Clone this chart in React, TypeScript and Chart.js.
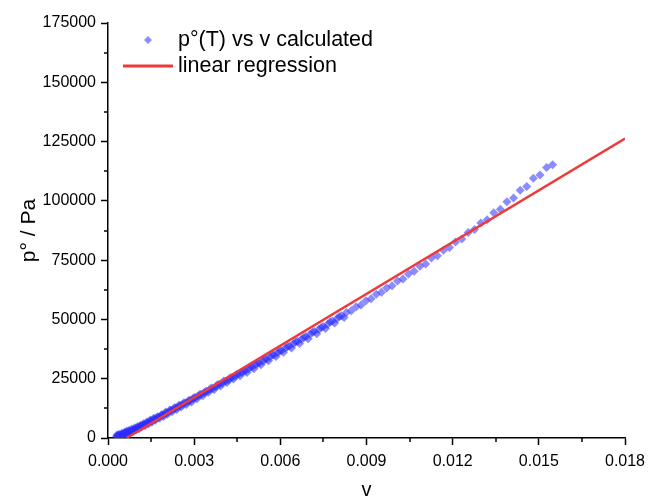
import { useEffect, useRef } from 'react';
import { Chart, registerables } from 'chart.js';

Chart.register(...registerables);

// p°(T) vs v calculated — main run
const vCalc = [
  0.0003, 0.00033, 0.00036, 0.0004, 0.00043, 0.00046, 0.0005, 0.00053, 0.00057, 0.0006,
  0.00064, 0.00068, 0.00072, 0.00076, 0.0008, 0.00085, 0.0009, 0.00095, 0.001, 0.00105,
  0.0011, 0.00115, 0.0012, 0.00126, 0.00132, 0.00138, 0.00144, 0.0015, 0.00156, 0.00162,
  0.00168, 0.00175, 0.00182, 0.00189, 0.00196, 0.00203,
  0.00211, 0.00219, 0.00227, 0.00235, 0.00243, 0.00251, 0.0026, 0.00269, 0.00278, 0.00287,
  0.00296, 0.00305, 0.00315, 0.00325, 0.00335, 0.00345, 0.00355, 0.00365, 0.00376, 0.00387,
  0.00398, 0.00409, 0.0042, 0.00431, 0.00442, 0.00454, 0.00466, 0.00478, 0.0049, 0.00502,
  0.00514, 0.00526, 0.00539, 0.00552, 0.00565, 0.00578, 0.00591, 0.00604, 0.00618, 0.00632,
  0.00646, 0.0066, 0.00674, 0.00689, 0.00704, 0.00719, 0.00734, 0.00749, 0.00765, 0.00781,
  0.00797, 0.00813,
  0.0083, 0.00847, 0.00864, 0.00881, 0.00898, 0.00916, 0.00934, 0.00952, 0.0097, 0.00989,
  0.01008, 0.01027, 0.01046, 0.01066, 0.01086, 0.01106, 0.01126, 0.01147, 0.01168, 0.01189,
  0.0121, 0.01232, 0.01254, 0.01276, 0.01298, 0.0132, 0.01343, 0.01366, 0.01389, 0.01412,
  0.01435, 0.01458, 0.01481, 0.01504, 0.01527, 0.01548,
];
const pCalc = [
  600, 900, 800, 1200, 1000, 1500, 1400, 1800, 1700, 2100,
  2300, 2200, 2700, 2600, 3100, 3200, 3600, 3700, 4100, 4300,
  4700, 4900, 5400, 5600, 6100, 6300, 6900, 7200, 7500, 8000,
  8200, 8800, 9100, 9700, 9900, 10600,
  11000, 11700, 12000, 12700, 13000, 13700, 14100, 14800, 15300, 15800,
  16600, 17000, 17800, 18300, 19100, 19600, 20400, 20900, 21700, 22600,
  23100, 23900, 24500, 25400, 26000, 26900, 27600, 28300, 29300, 29900,
  30900, 31600, 32500, 33300, 34300, 35000, 36100, 36800, 37900, 38800,
  39700, 40800, 41600, 42800, 43700, 44900, 45800, 47000, 48000, 49300,
  50300, 51600,
  52900, 53700, 55300, 56100, 57900, 58700, 60600, 61500, 63300, 64200,
  66200, 67100, 69200, 70300, 72400, 73400, 75900, 76800, 79200, 80300,
  82700, 83900, 86700, 87900, 90700, 92000, 95000, 96500, 99600, 101200,
  104500, 106100, 109500, 110900, 114100, 115200,
];

// p°(T) vs v calculated — second, overlapping run
const vCalcB = [
  0.00031, 0.00035, 0.00038, 0.00042, 0.00048, 0.00052, 0.00058, 0.00062, 0.00066, 0.0007,
  0.00074, 0.00078, 0.00083, 0.00088, 0.00093, 0.00098, 0.00103, 0.00108, 0.00113, 0.00118,
  0.00123, 0.00129, 0.00135, 0.00141, 0.00147, 0.00153, 0.00159, 0.00165, 0.00172, 0.00179,
  0.00186, 0.00193, 0.002, 0.00207, 0.00215, 0.00223, 0.00231, 0.00239, 0.00247, 0.00255,
  0.00264, 0.00273, 0.00282, 0.00291, 0.003, 0.0031, 0.0032, 0.0033, 0.0034, 0.0035,
  0.0036, 0.0037, 0.00381, 0.00392, 0.00403, 0.00414, 0.00425, 0.00437, 0.00448, 0.0046,
  0.00472, 0.00484, 0.00496, 0.00508, 0.0052, 0.00533, 0.00546, 0.00559, 0.00572, 0.00585,
  0.00598, 0.00611, 0.00625, 0.00639, 0.00653, 0.00667, 0.00682, 0.00697, 0.00712, 0.00727,
  0.00742, 0.00757, 0.00773, 0.00789, 0.00805, 0.00822,
];
const pCalcB = [
  1300, 400, 1600, 700, 2000, 900, 2500, 1500, 2900, 1900,
  3300, 2300, 3800, 2900, 4300, 3500, 4800, 3900, 5400, 4600,
  6000, 5200, 6700, 5900, 7600, 6600, 8300, 7500, 9000, 8300,
  9800, 9100, 10900, 10000, 11800, 11100, 12800, 12000, 13800, 13100,
  14900, 14100, 15900, 15200, 17100, 16500, 18400, 17800, 19700, 19300,
  21100, 20500, 22500, 21900, 24000, 23400, 25300, 24900, 26800, 26300,
  28200, 27600, 29900, 29200, 31400, 30900, 33100, 32600, 35000, 34400,
  36700, 36200, 38500, 38000, 40500, 39900, 42400, 41900, 44600, 44000,
  46600, 46200, 48900, 48500, 51200, 50800,
];

// linear regression end points
const fitV = [0.00065, 0.018];
const fitP = [0, 126300];

const xTickValues = [0, 0.003, 0.006, 0.009, 0.012, 0.015, 0.018];
const yTickValues = [0, 25000, 50000, 75000, 100000, 125000, 150000, 175000];

const legendLabels = ['p°(T) vs v calculated', 'linear regression'];

const FONT = "'Liberation Sans', Arial, sans-serif";
const POINT_COLOR = 'rgba(45,45,255,0.55)';
const LINE_COLOR = 'rgb(238,58,58)';

const minorTicksPlugin = {
  id: 'minorTicks',
  afterDraw(chart: any) {
    const { ctx, scales } = chart;
    const x = scales.x;
    const y = scales.y;
    ctx.save();
    ctx.strokeStyle = '#000';
    ctx.lineWidth = 1.5;
    for (let i = 0; i < xTickValues.length - 1; i++) {
      const mid = (xTickValues[i] + xTickValues[i + 1]) / 2;
      const px = Math.round(x.getPixelForValue(mid));
      ctx.beginPath();
      ctx.moveTo(px, y.bottom);
      ctx.lineTo(px, y.bottom + 4);
      ctx.stroke();
    }
    for (let i = 0; i < yTickValues.length - 1; i++) {
      const mid = (yTickValues[i] + yTickValues[i + 1]) / 2;
      const py = Math.round(y.getPixelForValue(mid));
      ctx.beginPath();
      ctx.moveTo(x.left, py);
      ctx.lineTo(x.left - 4, py);
      ctx.stroke();
    }
    ctx.restore();
  },
};

const legendPlugin = {
  id: 'customLegend',
  afterDraw(chart: any) {
    const { ctx } = chart;
    ctx.save();
    const mx = 148;
    const my = 40;
    const r = 4;
    ctx.fillStyle = POINT_COLOR;
    ctx.beginPath();
    ctx.moveTo(mx, my - r);
    ctx.lineTo(mx + r, my);
    ctx.lineTo(mx, my + r);
    ctx.lineTo(mx - r, my);
    ctx.closePath();
    ctx.fill();
    ctx.strokeStyle = LINE_COLOR;
    ctx.lineWidth = 3;
    ctx.beginPath();
    ctx.moveTo(123, 66);
    ctx.lineTo(173, 66);
    ctx.stroke();
    ctx.fillStyle = '#000';
    ctx.font = `21.5px ${FONT}`;
    ctx.textBaseline = 'middle';
    ctx.textAlign = 'left';
    ctx.fillText(legendLabels[0], 178, 40);
    ctx.fillText(legendLabels[1], 178, 66);
    ctx.restore();
  },
};

export default function App() {
  const canvasRef = useRef<HTMLCanvasElement | null>(null);

  useEffect(() => {
    document.body.style.margin = '0';
    const canvas = canvasRef.current;
    if (!canvas) return;
    const scatterData = vCalc
      .map((v, i) => ({ x: v, y: pCalc[i] }))
      .concat(vCalcB.map((v, i) => ({ x: v, y: pCalcB[i] })));
    const fitData = fitV.map((v, i) => ({ x: v, y: fitP[i] }));

    const chart = new Chart(canvas, {
      type: 'scatter',
      data: {
        datasets: [
          {
            label: legendLabels[1],
            data: fitData,
            showLine: true,
            borderColor: LINE_COLOR,
            borderWidth: 2.5,
            pointRadius: 0,
            fill: false,
          } as any,
          {
            label: legendLabels[0],
            data: scatterData,
            pointStyle: 'rectRot',
            pointRadius: 4.5,
            backgroundColor: POINT_COLOR,
            borderWidth: 0,
            showLine: false,
          } as any,
        ],
      },
      options: {
        responsive: false,
        animation: false,
        devicePixelRatio: 1,
        layout: { padding: { left: 0, right: 24, top: 23, bottom: 0 } },
        plugins: {
          legend: { display: false },
          tooltip: { enabled: false },
        },
        scales: {
          x: {
            type: 'linear',
            min: 0,
            max: 0.018,
            afterBuildTicks: (s: any) => {
              s.ticks = xTickValues.map((v) => ({ value: v }));
            },
            afterFit: (s: any) => {
              s.height = 60;
              s.paddingLeft = 0;
              s.paddingRight = 0;
            },
            ticks: {
              callback: (v: any) => Number(v).toFixed(3),
              font: { family: FONT, size: 16 },
              color: '#000',
              padding: 7,
              maxRotation: 0,
              autoSkip: false,
            },
            grid: {
              display: true,
              drawOnChartArea: false,
              drawTicks: true,
              tickLength: 7,
              tickColor: '#000',
              tickWidth: 1.5,
            },
            border: { display: true, color: '#000', width: 1.5 },
            title: {
              display: true,
              text: 'v',
              color: '#000',
              font: { family: FONT, size: 20 },
              padding: { top: 0, bottom: -4 },
            },
          },
          y: {
            type: 'linear',
            min: 0,
            max: 175000,
            afterBuildTicks: (s: any) => {
              s.ticks = yTickValues.map((v) => ({ value: v }));
            },
            afterFit: (s: any) => {
              s.width = 108;
              s.paddingTop = 0;
              s.paddingBottom = 0;
            },
            ticks: {
              callback: (v: any) => String(v),
              font: { family: FONT, size: 16 },
              color: '#000',
              padding: 5,
              autoSkip: false,
            },
            grid: {
              display: true,
              drawOnChartArea: false,
              drawTicks: true,
              tickLength: 7,
              tickColor: '#000',
              tickWidth: 1.5,
            },
            border: { display: true, color: '#000', width: 1.5 },
            title: {
              display: true,
              text: 'p° / Pa',
              color: '#000',
              font: { family: FONT, size: 21 },
              padding: { top: 17, bottom: 0 },
            },
          },
        },
      },
      plugins: [minorTicksPlugin, legendPlugin],
    });

    return () => {
      chart.destroy();
    };
  }, []);

  return (
    <div style={{ width: 649, height: 498 }}>
      <canvas ref={canvasRef} width={649} height={498} style={{ display: 'block' }} />
    </div>
  );
}
